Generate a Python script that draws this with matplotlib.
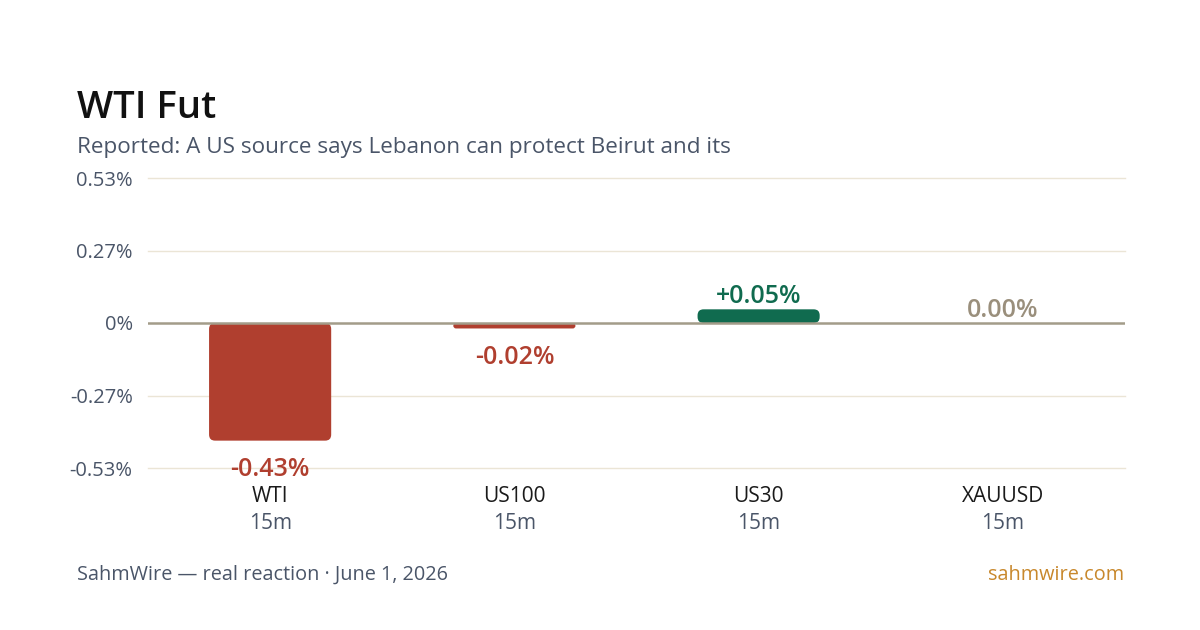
import matplotlib
matplotlib.use("Agg")
from matplotlib import pyplot as plt
from matplotlib.patches import FancyBboxPatch

# dados do grafico
symbols = ["WTI", "US100", "US30", "XAUUSD"]
windows = ["15m", "15m", "15m", "15m"]
changes = [-0.43, -0.02, 0.05, 0.00]
labels = ["-0.43%", "-0.02%", "+0.05%", "0.00%"]
yticks = [-0.53, -0.265, 0, 0.265, 0.53]
ytick_labels = ["-0.53%", "-0.27%", "0%", "0.27%", "0.53%"]

title = "WTI Fut"
subtitle = "Reported: A US source says Lebanon can protect Beirut and its"
footer = "SahmWire \u2014 real reaction \u00b7 June 1, 2026"
site = "sahmwire.com"

RED = "#b03f2f"
GREEN = "#106b4f"
NEUTRAL = "#9a8f7c"
SLATE = "#4a5568"
GRID = "#ebe5d6"

plt.rcParams["font.family"] = ["Open Sans", "DejaVu Sans"]

fig = plt.figure(figsize=(12, 6.3), dpi=100)
fig.patch.set_facecolor("white")
ax = fig.add_axes([148 / 1200, 1 - 468 / 630, 977 / 1200, 290 / 630])

ax.set_xlim(-0.5, 3.5)
ax.set_ylim(-0.53, 0.53)

# grade
for t in yticks:
    if t != 0:
        ax.axhline(t, color=GRID, lw=1, zorder=0, clip_on=False)
ax.axhline(0, color="#a39c89", lw=1.8, zorder=3)

# barras com cantos arredondados
width = 0.5
aspect = (1.06 / 290) / (4 / 977)
for i, v in enumerate(changes):
    if v == 0:
        continue
    col = RED if v < 0 else GREEN
    h = abs(v)
    y0 = min(0, v)
    r = min(0.0246, h / aspect / 2)
    p = FancyBboxPatch((i - width / 2, y0), width, h,
                       boxstyle="round,pad=0,rounding_size=%f" % r,
                       mutation_aspect=aspect, fc=col, ec="none", zorder=2)
    ax.add_patch(p)

# rotulos dos valores
for i, v in enumerate(changes):
    if v < 0:
        ax.annotate(labels[i], (i, v), xytext=(0, -12), textcoords="offset points",
                    ha="center", va="top", fontsize=18, color=RED, fontweight="semibold")
    elif v > 0:
        ax.annotate(labels[i], (i, v), xytext=(0, 4.5), textcoords="offset points",
                    ha="center", va="baseline", fontsize=18, color=GREEN, fontweight="semibold")
    else:
        ax.annotate(labels[i], (i, v), xytext=(0, 4.5), textcoords="offset points",
                    ha="center", va="baseline", fontsize=18, color=NEUTRAL, fontweight="semibold")

ax.set_yticks(yticks)
ax.set_yticklabels(ytick_labels, fontsize=14.5, color=SLATE)
ax.tick_params(axis="y", length=0, pad=11)
ax.set_xticks([])
for s in ax.spines.values():
    s.set_visible(False)

# categorias
tr = ax.get_xaxis_transform()
for i, (s, w) in enumerate(zip(symbols, windows)):
    ax.text(i, -0.1, s, transform=tr, ha="center", va="center", fontsize=15, color="#1a1a1a")
    ax.text(i, -0.193, w, transform=tr, ha="center", va="center", fontsize=15, color=SLATE)

fig.text(77 / 1200, 1 - 118 / 630, title, fontsize=27.5, fontweight="semibold", color="#111111")
fig.text(77 / 1200, 1 - 153 / 630, subtitle, fontsize=16.2, color=SLATE)
fig.text(77 / 1200, 1 - 580 / 630, footer, fontsize=14.3, color=SLATE)
fig.text(1124 / 1200, 1 - 580 / 630, site, fontsize=14.3, color="#c8882c", ha="right")

fig.savefig("out.png", dpi=100, facecolor="white")
